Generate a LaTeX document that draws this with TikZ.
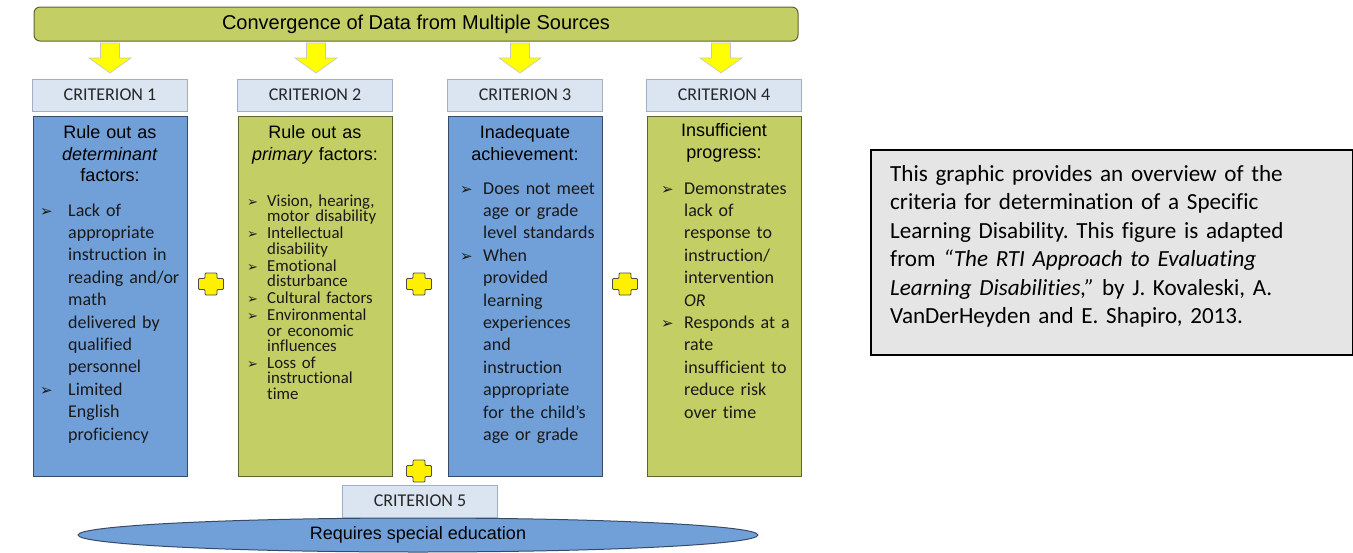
\documentclass[tikz,border=0pt]{standalone}
\usepackage{fontspec}
\setmainfont{Carlito}[Ligatures=NoCommon]
\newfontfamily\arialfont{Liberation Sans}
\newfontfamily\symfont{DejaVu Sans}
\usetikzlibrary{shapes.geometric}

\definecolor{colblue}{RGB}{113,160,216}
\definecolor{colgreen}{RGB}{195,207,101}
\definecolor{hdrblue}{RGB}{219,229,242}
\definecolor{capgray}{RGB}{229,229,229}
\definecolor{blueline}{RGB}{55,75,105}
\definecolor{greenline}{RGB}{95,100,45}
\definecolor{hdrline}{RGB}{160,175,195}
\definecolor{plusyellow}{RGB}{255,240,0}
\definecolor{arrowyellow}{RGB}{255,255,0}

\frenchspacing
\newlength\bulind
\setlength\bulind{28pt}
\newcommand\bulsize{15}
\newcommand\bul{\strut\llap{\makebox[\bulind][l]{\symfont\fontsize{\bulsize}{\bulsize}\selectfont ➢}}}
% indent every line of a column body by #1
\newcommand\bodyindent[1]{\setlength\bulind{#1}\setlength\leftskip{#1}\lineskiplimit=-20pt\relax}

\begin{document}
\begin{tikzpicture}[x=1pt,y=-1pt,
    banner/.style={draw=greenline, fill=colgreen, rounded corners=6pt, line width=1pt,
            minimum width=764pt, minimum height=34pt, inner sep=0pt,
            font=\arialfont\fontsize{20}{24}\selectfont},
    hdr/.style={draw=hdrline, fill=hdrblue, line width=0.8pt, minimum width=155pt,
            minimum height=32pt, inner sep=0pt, text=black!85, font=\fontsize{18}{22}\selectfont},
    bluecol/.style={draw=blueline, fill=colblue, line width=1pt, minimum width=154pt,
            minimum height=360pt, anchor=north},
    greencol/.style={bluecol, draw=greenline, fill=colgreen},
    coltitle/.style={anchor=north, inner sep=0pt, text width=154pt, align=center,
            font=\arialfont\fontsize{18}{21.5}\selectfont},
    colbody/.style={anchor=north west, inner sep=0pt, text width=150pt, align=left,
            text=black!90, font=\fontsize{18}{22.4}\selectfont},
    yarrow/.style={fill=arrowyellow, draw=gray!45, line width=0.6pt},
    plusmark/.pic={\draw[fill=plusyellow, draw=black!70, line width=0.8pt, rounded corners=1pt]
            (-12.5,-5.5) -- (-6,-5.5) -- (-6,-11) -- (6,-11) -- (6,-5.5) -- (12.5,-5.5)
            -- (12.5,5.5) -- (6,5.5) -- (6,11) -- (-6,11) -- (-6,5.5) -- (-12.5,5.5) -- cycle;}]
    \useasboundingbox (0,0) rectangle (1353,552);

    % data sources and the four arrows
    \node[banner] (conv) at (416,24) {Convergence of Data from Multiple Sources};
    \foreach \x in {110,316,520,721}
        \draw[yarrow] (\x-9.5,43) -- (\x+9.5,43) -- (\x+9.5,58) -- (\x+21,58) -- (\x,73)
            -- (\x-21,58) -- (\x-9.5,58) -- cycle;

    \node[hdr] (crit1) at (110,95) {CRITERION 1};
    \node[hdr] (crit2) at (315,95) {CRITERION 2};
    \node[hdr] (crit3) at (525,95) {CRITERION 3};
    \node[hdr] (crit4) at (724,95) {CRITERION 4};

    \node[bluecol] (col1) at (110,116) {};
    \node[greencol] (col2) at (315,116) {};
    \node[bluecol] (col3) at (525,116) {};
    \node[greencol] (col4) at (724,116) {};

    \node[coltitle] (title1) at (110,123.5) {\strut Rule out as\\ \textit{determinant}\\ factors:};
    \node[coltitle] (title2) at (315,123.5) {\strut Rule out as\\ \textit{primary} factors:};
    \node[coltitle] (title3) at (525,123.5) {\strut Inadequate\\ achievement:};
    \node[coltitle] (title4) at (724,121.5) {\strut Insufficient\\ progress:};

    \node[colbody] (body1) at (40,200.3) {\bodyindent{28pt}%
        \bul Lack of\\ appropriate\\ instruction in\\
        reading and/or\\ math\\ delivered by\\ qualified\\ personnel\par
        \bul Limited\\ English\\ proficiency\par};
    \node[colbody, font=\fontsize{16.8}{15.4}\selectfont] (body2) at (247,194.7) {%
        \bodyindent{20pt}\renewcommand\bulsize{13}%
        \bul Vision, hearing,\\ motor disability\par\vspace{1.6pt}
        \bul Intellectual\\ disability\par\vspace{1.6pt}
        \bul Emotional\\ disturbance\par\vspace{1.6pt}
        \bul Cultural factors\par\vspace{1.6pt}
        \bul Environmental\\ or economic\\ influences\par\vspace{1.6pt}
        \bul Loss of\\ instructional\\ time\par};
    \node[colbody] (body3) at (460,178.3) {\bodyindent{23pt}%
        \bul Does not meet\\ age or grade\\ level standards\par
        \bul When\\ provided\\ learning\\ experiences\\ and\\ instruction\\ appropriate\\
        for the child’s\\ age or grade\par};
    \node[colbody] (body4) at (661,178.3) {\bodyindent{23pt}%
        \bul Demonstrates\\ lack of\\ response to\\ instruction/\\ intervention\\ \textit{OR}\par
        \bul Responds at a\\ rate\\ insufficient to\\ reduce risk\\ over time\par};

    % outcome
    \node[ellipse, draw=blueline, fill=colblue, line width=1pt, minimum width=680pt,
        minimum height=34pt, inner sep=0pt, font=\arialfont\fontsize{18}{21}\selectfont]
        (sped) at (418,535) {Requires special education};
    \node[hdr] (crit5) at (420,501) {CRITERION 5};

    \foreach \x/\y in {211/284,419/284,625/284,419/471}
        \pic at (\x,\y) {plusmark};

    % caption
    \node[draw=black, line width=2pt, fill=capgray, minimum width=482pt, minimum height=205pt,
        anchor=north west, inner sep=0pt] (capbox) at (870,149) {};
    \node[anchor=north west, inner sep=0pt, text width=455pt, align=left,
        font=\fontsize{23.1}{28.5}\selectfont] (captext) at (890,161) {\strut This graphic
        provides an overview of the\\ criteria for determination of a Specific\\ Learning
        Disability. This figure is adapted\\ from \textit{“The RTI Approach to Evaluating\\
        Learning Disabilities,”} by J. Kovaleski, A.\\ VanDerHeyden and E. Shapiro, 2013.};
\end{tikzpicture}
\end{document}
